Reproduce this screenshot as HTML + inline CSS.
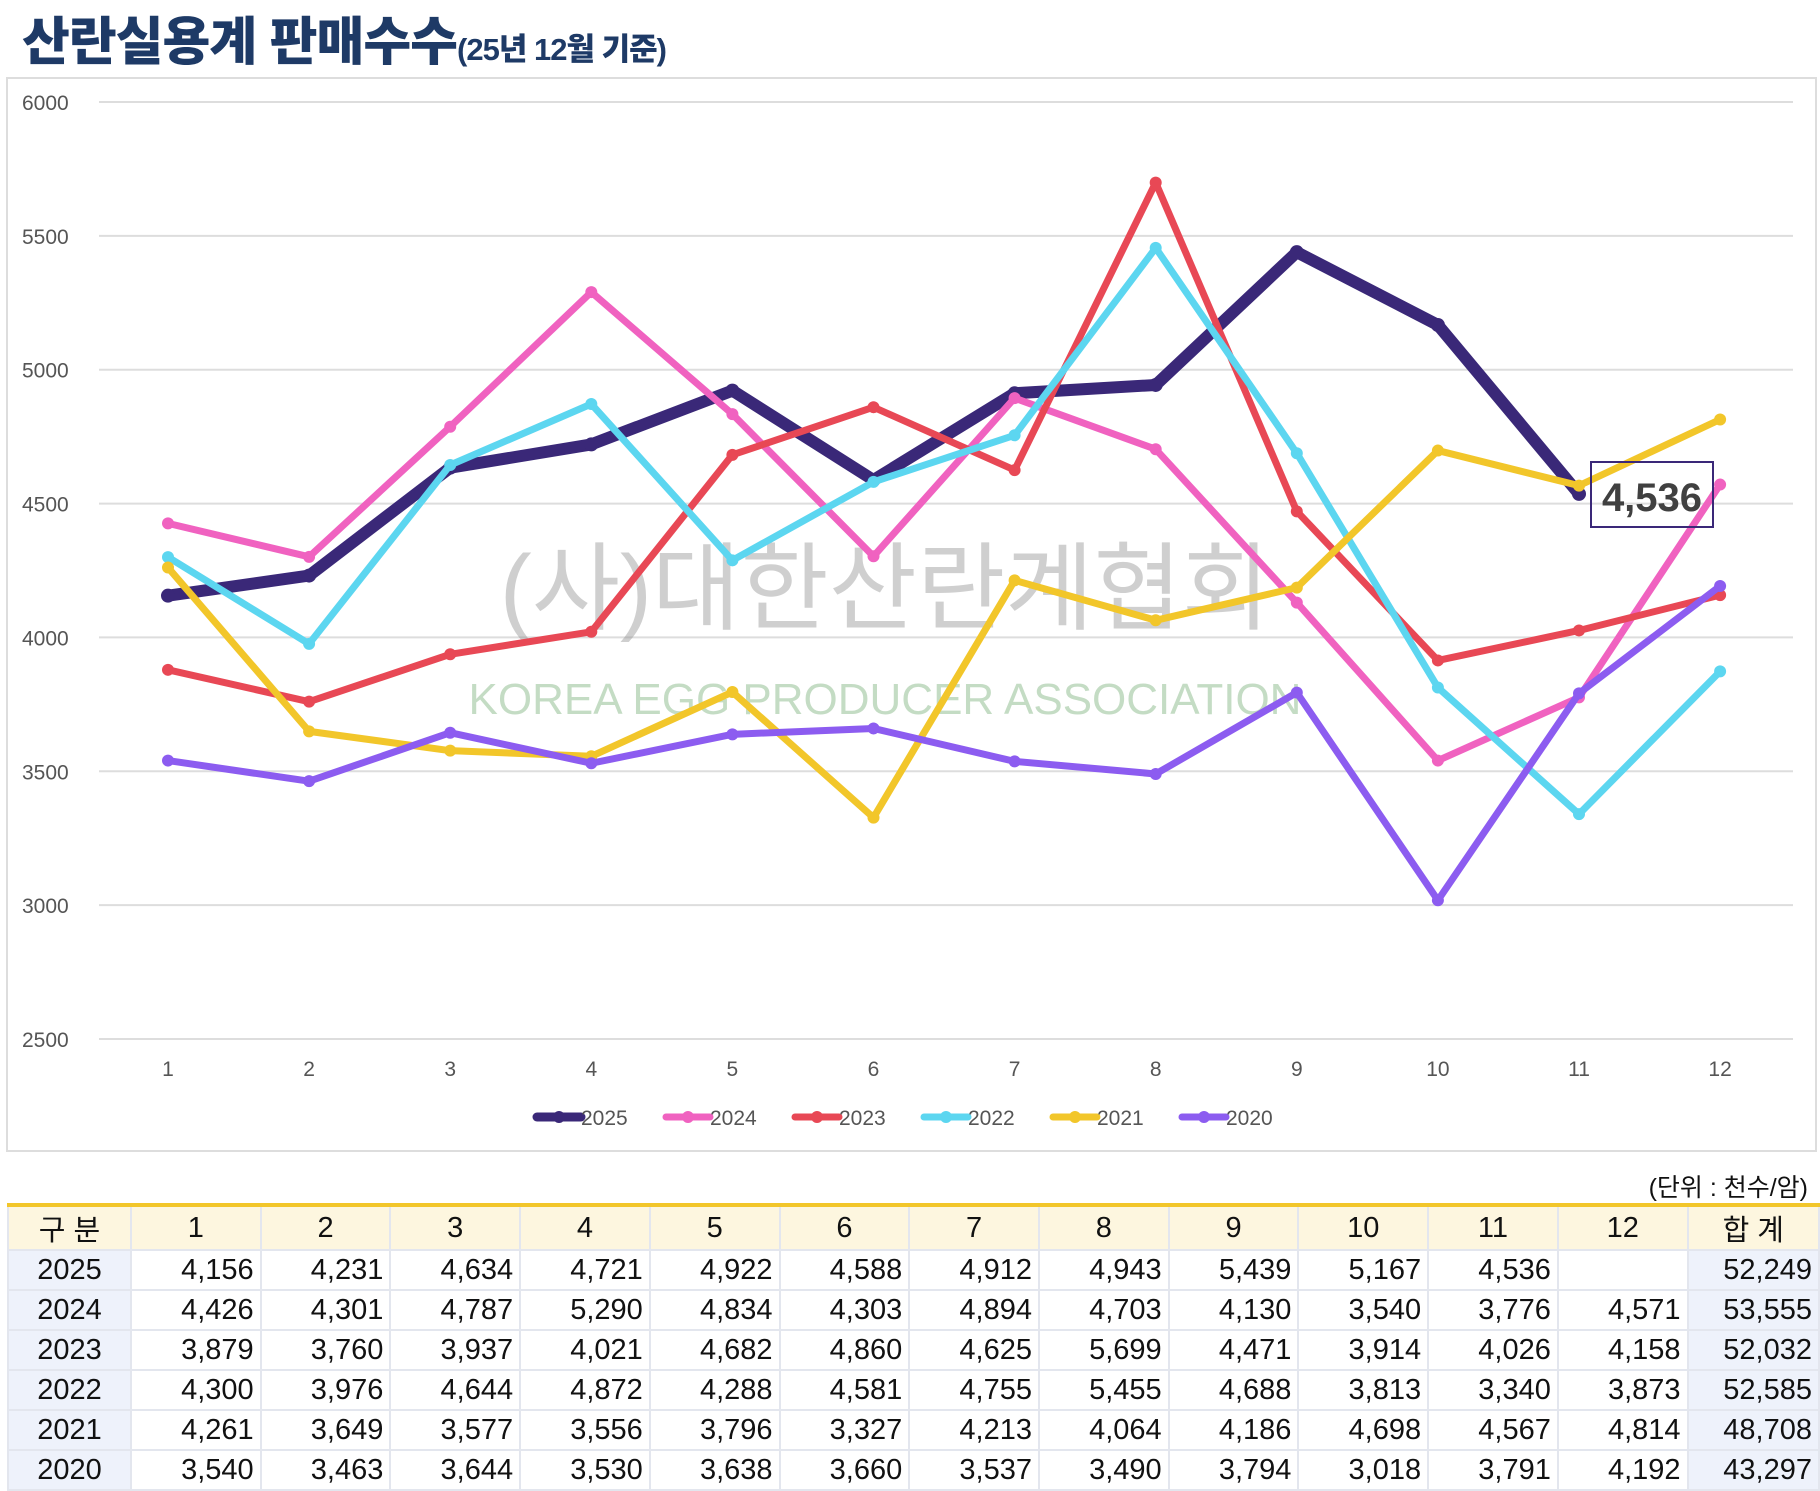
<!DOCTYPE html>
<html><head><meta charset="utf-8"><style>
body{margin:0;width:1820px;height:1485px;background:#fff;position:relative;overflow:hidden;font-family:"Liberation Sans","Noto Sans CJK KR",sans-serif}
.t{position:absolute;left:22px;top:0px;color:#1e3a66;font-weight:900;font-size:52px;white-space:nowrap;letter-spacing:-1px}
.t span{font-size:31px}
table{position:absolute;left:7px;top:1203px;border-collapse:collapse;border-top:4px solid #f2c62a}
td{width:127px;height:38px;border:2px solid #e3e6ee;font-size:29px;text-align:right;padding:0 6px 0 0;color:#111}
tr:first-child td{background:#fdf6df;text-align:center;padding:0}
td:first-child{text-align:center;background:#eef2fb;padding:0}
td:last-child{background:#eef2fb}
tr:first-child td:first-child,tr:first-child td:last-child{background:#fdf6df}
</style></head><body>
<div class="t">산란실용계 판매수수<span>(25년 12월 기준)</span></div>
<div style="position:absolute;right:12px;top:1168px;font-size:25px;color:#111">(단위 : 천수/암)</div>
<svg id="s" width="1820" height="1200" style="position:absolute;left:0;top:0"></svg>
<table id="tb"></table>
<script>
const d={2025:[4156,4231,4634,4721,4922,4588,4912,4943,5439,5167,4536],
2024:[4426,4301,4787,5290,4834,4303,4894,4703,4130,3540,3776,4571],
2023:[3879,3760,3937,4021,4682,4860,4625,5699,4471,3914,4026,4158],
2022:[4300,3976,4644,4872,4288,4581,4755,5455,4688,3813,3340,3873],
2021:[4261,3649,3577,3556,3796,3327,4213,4064,4186,4698,4567,4814],
2020:[3540,3463,3644,3530,3638,3660,3537,3490,3794,3018,3791,4192]};
const tot={2025:"52,249",2024:"53,555",2023:"52,032",2022:"52,585",2021:"48,708",2020:"43,297"};
const col={2025:"#3a2878",2024:"#f062c0",2023:"#e84855",2022:"#5cd6f0",2021:"#f2c62a",2020:"#8c5cf0"};
const X=i=>168+i*141.1,Y=v=>102+(6000-v)*0.26771;
let h='<rect x="7" y="78" width="1809" height="1073" fill="none" stroke="#ddd" stroke-width="2"/>';
for(let k=0;k<=7;k++){let v=6000-k*500,y=Y(v);h+=`<line x1="99" x2="1793" y1="${y}" y2="${y}" stroke="#ddd" stroke-width="2"/><text x="22" y="${y+8}" font-size="21" fill="#555">${v}</text>`}
for(let i=0;i<12;i++)h+=`<text x="${X(i)}" y="1076" font-size="21" fill="#555" text-anchor="middle">${i+1}</text>`;
h+=`<text x="885" y="622" font-size="96" fill="#888" fill-opacity="0.4" text-anchor="middle">(사)대한산란계협회</text>`;
h+=`<text x="885" y="714" font-size="44" fill="#9cc49c" fill-opacity="0.6" text-anchor="middle">KOREA EGG PRODUCER ASSOCIATION</text>`;
for(const yr of [2025,2024,2023,2022,2021,2020]){const a=d[yr];const w=yr==2025?12:7;
h+=`<polyline fill="none" stroke="${col[yr]}" stroke-width="${w}" stroke-linejoin="round" stroke-linecap="round" points="${a.map((v,i)=>X(i)+','+Y(v)).join(' ')}"/>`;
a.forEach((v,i)=>h+=`<circle cx="${X(i)}" cy="${Y(v)}" r="${w==12?7:6}" fill="${col[yr]}"/>`)}
h+=`<rect x="1591" y="462" width="122" height="65" fill="none" stroke="#3a2878" stroke-width="2"/><text x="1652" y="511" font-size="40" font-weight="bold" fill="#404040" text-anchor="middle">4,536</text>`;
let lx=537;for(const yr of [2025,2024,2023,2022,2021,2020]){h+=`<line x1="${lx}" x2="${lx+44}" y1="1117" y2="1117" stroke="${col[yr]}" stroke-width="${yr==2025?9:7}" stroke-linecap="round"/><circle cx="${lx+22}" cy="1117" r="6" fill="${col[yr]}"/><text x="${lx+44}" y="1125" font-size="21" fill="#555">${yr}</text>`;lx+=129}
document.getElementById('s').innerHTML=h;
let t='<tr><td>구 분</td>'+[...Array(12)].map((_,i)=>`<td>${i+1}</td>`).join('')+'<td>합 계</td></tr>';
for(const yr of [2025,2024,2023,2022,2021,2020]){t+=`<tr><td>${yr}</td>`;for(let i=0;i<12;i++){const v=d[yr][i];t+=`<td>${v==null?'':v.toLocaleString('en-US')}</td>`}t+=`<td>${tot[yr]}</td></tr>`}
document.getElementById('tb').innerHTML=t;
</script>
</body></html>
